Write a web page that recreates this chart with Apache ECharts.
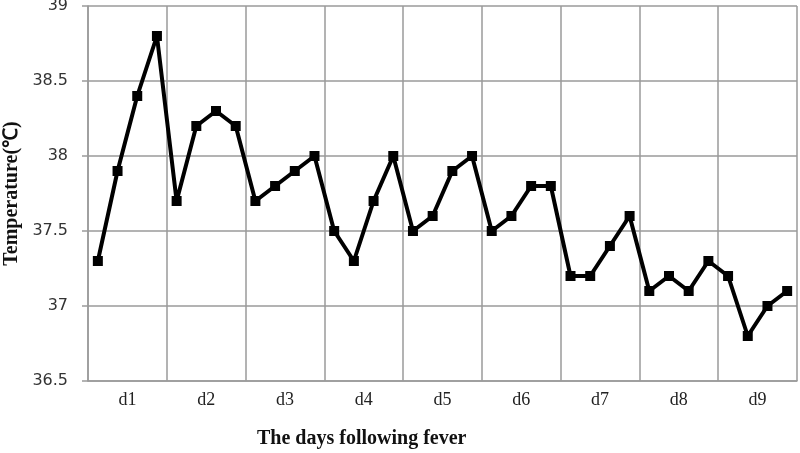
<!DOCTYPE html>
<html>
<head>
<meta charset="utf-8">
<script src="https://cdn.jsdelivr.net/npm/echarts@6/dist/echarts.min.js"></script>
<style>html,body{margin:0;padding:0;background:#fff;}#chart{width:800px;height:453px;}</style>
</head>
<body>
<div id="chart"></div>
<script>
var days = ['d1','d2','d3','d4','d5','d6','d7','d8','d9'];
var readings = [
  'd1-1','d1-2','d1-3','d1-4','d2-1','d2-2','d2-3','d2-4','d3-1','d3-2','d3-3','d3-4',
  'd4-1','d4-2','d4-3','d4-4','d5-1','d5-2','d5-3','d5-4','d6-1','d6-2','d6-3','d6-4',
  'd7-1','d7-2','d7-3','d7-4','d8-1','d8-2','d8-3','d8-4','d9-1','d9-2','d9-3','d9-4'
];
var temperature = [
  37.3, 37.9, 38.4, 38.8,
  37.7, 38.2, 38.3, 38.2,
  37.7, 37.8, 37.9, 38.0,
  37.5, 37.3, 37.7, 38.0,
  37.5, 37.6, 37.9, 38.0,
  37.5, 37.6, 37.8, 37.8,
  37.2, 37.2, 37.4, 37.6,
  37.1, 37.2, 37.1, 37.3,
  37.2, 36.8, 37.0, 37.1
];
var yTicks = { min: 36.5, max: 39, interval: 0.5 };

var chart = echarts.init(document.getElementById('chart'), null, { renderer: 'canvas' });
var gridColor = '#9a9a9a';
chart.setOption({
  animation: false,
  backgroundColor: '#fff',
  title: {
    text: 'The days following fever',
    left: 257,
    top: 429,
    padding: 0,
    textStyle: { fontFamily: 'Liberation Serif', fontWeight: 'bold', fontSize: 20, color: '#111' }
  },
  grid: { left: 88, right: 3, top: 6, bottom: 72, containLabel: false, outerBoundsMode: 'none' },
  xAxis: [
    {
      type: 'category',
      data: readings,
      boundaryGap: true,
      show: false
    },
    {
      type: 'category',
      data: days,
      position: 'bottom',
      boundaryGap: true,
      axisLine: { show: true, lineStyle: { color: gridColor, width: 1.5 } },
      axisTick: { show: false },
      axisLabel: { margin: 10, fontFamily: 'Liberation Serif', fontSize: 18, color: '#222' },
      splitLine: { show: true, lineStyle: { color: gridColor, width: 1.5 } }
    }
  ],
  yAxis: {
    type: 'value',
    min: yTicks.min,
    max: yTicks.max,
    interval: yTicks.interval,
    name: 'Temperature(℃)',
    nameLocation: 'middle',
    nameGap: 61,
    nameTextStyle: { fontFamily: 'Liberation Serif', fontWeight: 'bold', fontSize: 20, color: '#111' },
    axisLine: { show: true, lineStyle: { color: gridColor, width: 1.5 } },
    axisTick: { show: true, length: 6, lineStyle: { color: gridColor, width: 1.5 } },
    axisLabel: { margin: 20, fontFamily: 'DejaVu Sans', fontSize: 16, color: '#333' },
    splitLine: { show: true, lineStyle: { color: gridColor, width: 1.5 } }
  },
  series: [{
    type: 'line',
    xAxisIndex: 0,
    data: temperature,
    symbol: 'rect',
    symbolSize: 10,
    showAllSymbol: true,
    lineStyle: { color: '#000', width: 4 },
    itemStyle: { color: '#000' }
  }]
});
</script>
</body>
</html>
